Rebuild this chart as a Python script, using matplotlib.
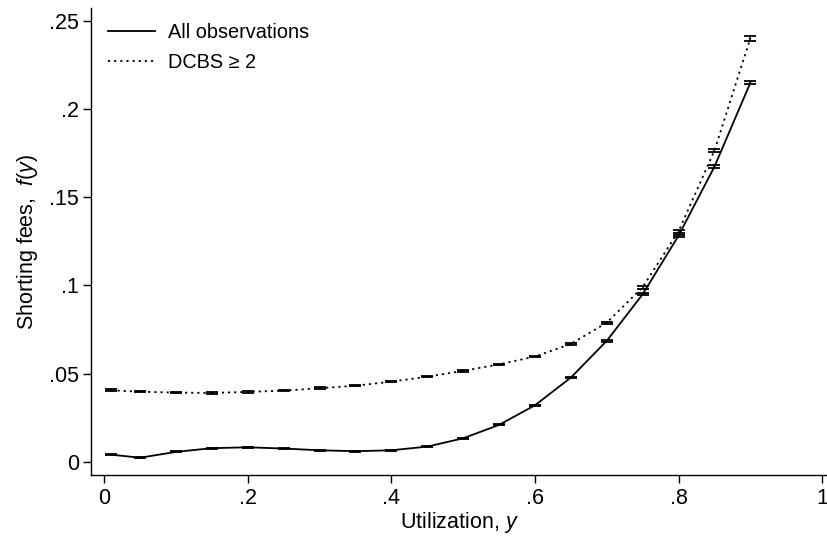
import matplotlib
matplotlib.use("Agg")
import matplotlib.pyplot as plt
import numpy as np

plt.rcParams['font.family'] = ['Liberation Sans', 'DejaVu Sans']
plt.rcParams['mathtext.fontset'] = 'custom'
plt.rcParams['mathtext.it'] = 'Liberation Sans:italic'
plt.rcParams['mathtext.rm'] = 'Liberation Sans'

# Utilization grid
util = [0.01, 0.05, 0.10, 0.15, 0.20, 0.25, 0.30, 0.35, 0.40, 0.45,
        0.50, 0.55, 0.60, 0.65, 0.70, 0.75, 0.80, 0.85, 0.90]

# Estimated fee function, all observations
fee_all = [0.0041, 0.0024, 0.0057, 0.0078, 0.0083, 0.0076, 0.0066, 0.0061, 0.0066, 0.0087,
           0.0134, 0.0210, 0.0321, 0.0478, 0.0686, 0.0950, 0.1282, 0.1673, 0.2148]
ci_all = [0.0003, 0.0003, 0.0003, 0.0003, 0.0003, 0.0003, 0.0003, 0.0003, 0.0003, 0.0003,
          0.0003, 0.0003, 0.0004, 0.0004, 0.0004, 0.0005, 0.0006, 0.0007, 0.0009]

# Estimated fee function, DCBS >= 2
fee_dcbs = [0.0406, 0.0398, 0.0393, 0.0391, 0.0397, 0.0404, 0.0418, 0.0432, 0.0455, 0.0483,
            0.0516, 0.0553, 0.0597, 0.0669, 0.0789, 0.0990, 0.1307, 0.1764, 0.2400]
ci_dcbs = [0.0005, 0.0004, 0.0004, 0.0004, 0.0004, 0.0004, 0.0004, 0.0004, 0.0004, 0.0004,
           0.0004, 0.0004, 0.0004, 0.0005, 0.0006, 0.0008, 0.0009, 0.0010, 0.0013]

xticks = [0, 0.2, 0.4, 0.6, 0.8, 1.0]
xtick_labels = ['0', '.2', '.4', '.6', '.8', '1']
yticks = [0, 0.05, 0.10, 0.15, 0.20, 0.25]
ytick_labels = ['0', '.05', '.1', '.15', '.2', '.25']

fig = plt.figure(figsize=(8.27, 5.36), dpi=100)
ax = fig.add_axes([0.1104, 0.1138, 0.8896, 0.8712])

lw = 1.3
ax.plot(util, fee_all, color='black', lw=lw, ls='-', label='All observations')
ax.plot(util, fee_dcbs, color='black', lw=lw, ls=(0, (1.2, 2.2)), label='DCBS ≥ 2')
ax.errorbar(util, fee_all, yerr=ci_all, fmt='none', ecolor='black', elinewidth=1.2,
            capsize=4, capthick=1.3)
ax.errorbar(util, fee_dcbs, yerr=ci_dcbs, fmt='none', ecolor='black', elinewidth=1.2,
            capsize=4, capthick=1.3)

ax.set_xlim(-0.018, 1.0068)
ax.set_ylim(-0.0074, 0.2572)
ax.set_xticks(xticks)
ax.set_xticklabels(xtick_labels)
ax.set_yticks(yticks)
ax.set_yticklabels(ytick_labels)

for side in ('top', 'right'):
    ax.spines[side].set_visible(False)
for side in ('left', 'bottom'):
    ax.spines[side].set_linewidth(1.0)

ax.tick_params(axis='both', direction='out', length=6, width=1.0, labelsize=15.5,
               colors='black', pad=3)

ax.set_xlabel('Utilization, $y$', fontsize=15.5, labelpad=1)
ax.set_ylabel('Shorting fees,  $f(y)$', fontsize=15.5, labelpad=6)

leg = ax.legend(loc='upper left', frameon=False, fontsize=14.3, handlelength=2.35,
                handletextpad=0.65, labelspacing=0.55, borderaxespad=0.0,
                bbox_to_anchor=(0.012, 0.985))

fig.savefig('out.png', dpi=100)
